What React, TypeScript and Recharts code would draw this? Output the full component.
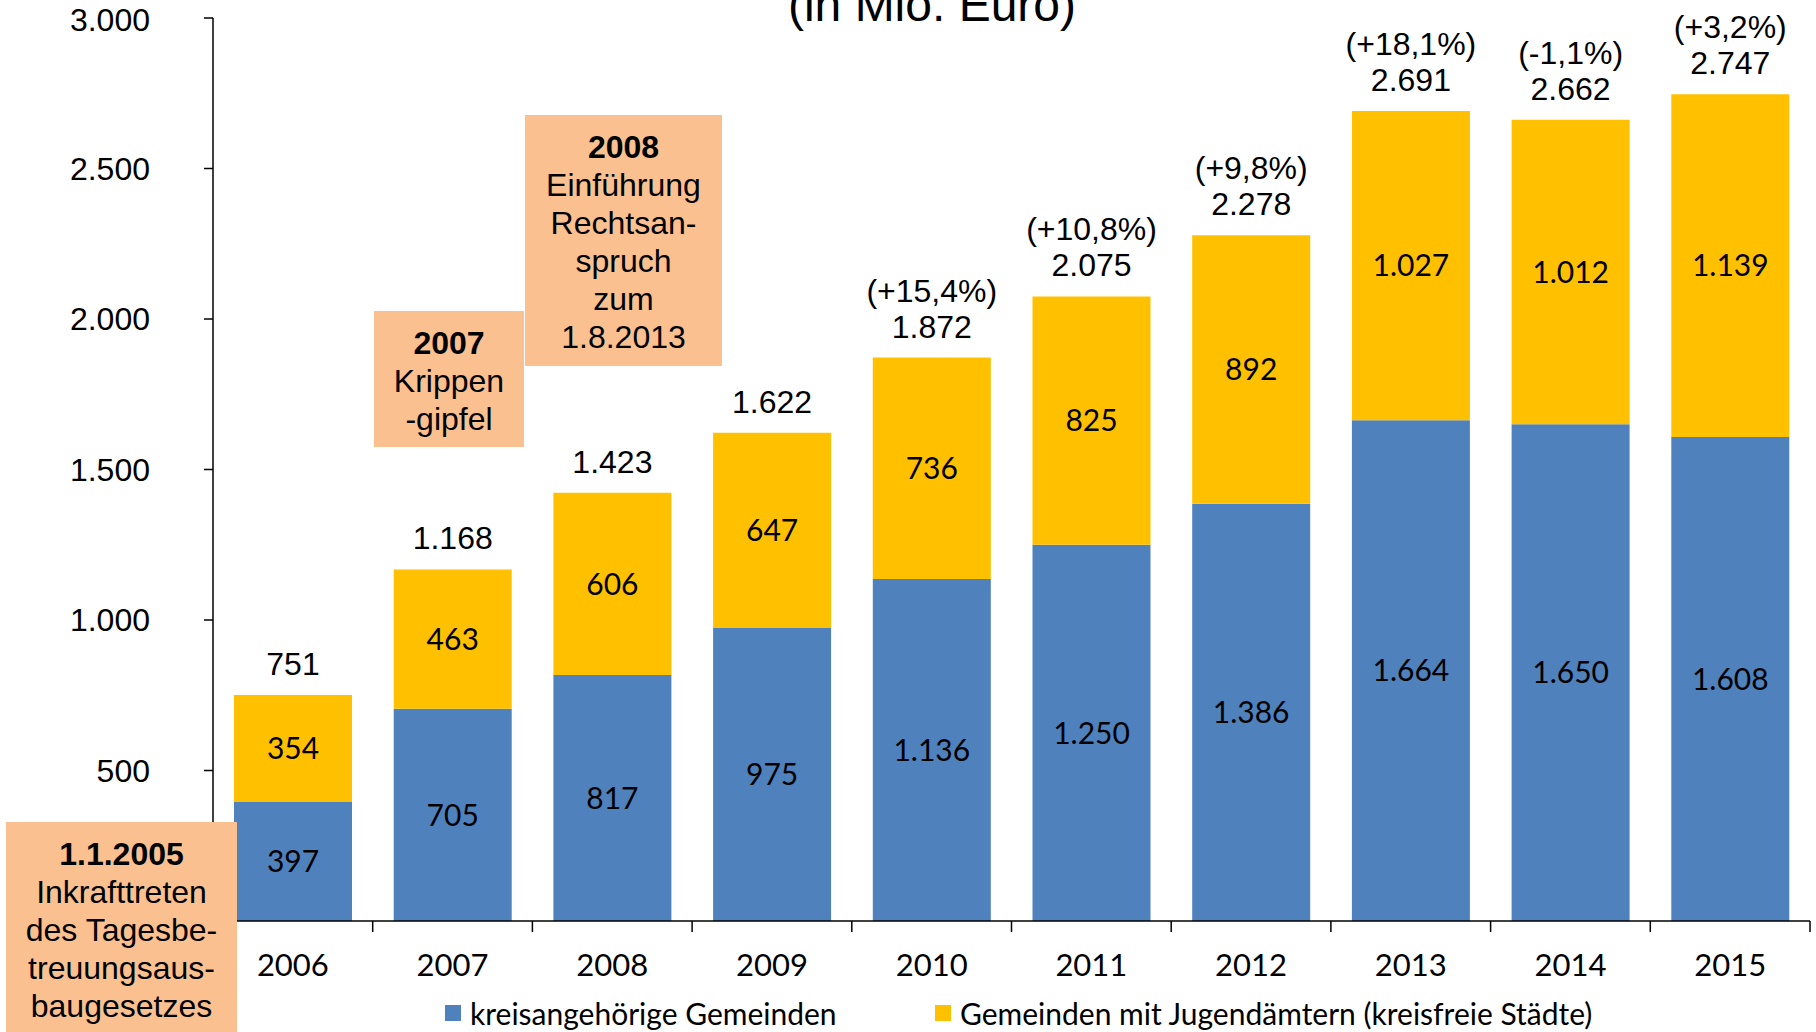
import { Bar, BarChart, LabelList, XAxis, YAxis } from "recharts";

const YEARS = ["2006", "2007", "2008", "2009", "2010", "2011", "2012", "2013", "2014", "2015"];
const KREIS = [397, 705, 817, 975, 1136, 1250, 1386, 1664, 1650, 1608];
const STAEDTE = [354, 463, 606, 647, 736, 825, 892, 1027, 1012, 1139];
const TOTALS = [751, 1168, 1423, 1622, 1872, 2075, 2278, 2691, 2662, 2747];
const CHANGES = ["", "", "", "", "(+15,4%)", "(+10,8%)", "(+9,8%)", "(+18,1%)", "(-1,1%)", "(+3,2%)"];
// the 0 label sits under the 2005 note box, so it is left out
const Y_TICKS = [500, 1000, 1500, 2000, 2500, 3000];

const BLUE = "#4F81BD";
const GOLD = "#FFC000";
const NOTE = "#FAC090";
const ARIAL = "'Liberation Sans', Arial, sans-serif";
const SOFT = "Lato, 'Open Sans', sans-serif";

const W = 1816;
const H = 1032;
const BAND = (1810 - 213) / YEARS.length;

const data = YEARS.map((year, i) => ({
  year,
  kreis: KREIS[i],
  staedte: STAEDTE[i],
  total: TOTALS[i],
  change: CHANGES[i],
}));

// german thousands separator
const fmt = (v: any) => {
  const n = Number(v);
  if (n < 1000) return String(n);
  return `${Math.floor(n / 1000)}.${String(n % 1000).padStart(3, "0")}`;
};

function box(p: any) {
  const vb = p.viewBox ?? p;
  return { x: Number(vb.x), y: Number(vb.y), width: Number(vb.width) };
}

function TotalLabel(p: any) {
  const { x, y, width } = box(p);
  return (
    <text x={x + width / 2} y={y - 31 + 11} textAnchor="middle" fontSize={32} fontFamily={ARIAL} fill="#000">
      {fmt(p.value)}
    </text>
  );
}

function ChangeLabel(p: any) {
  if (!p.value) return null;
  const { x, y, width } = box(p);
  return (
    <text x={x + width / 2} y={y - 67 + 11} textAnchor="middle" fontSize={32} fontFamily={ARIAL} fill="#000">
      {p.value}
    </text>
  );
}

function YearTick(p: any) {
  const { x, y, payload } = p;
  const edge = x + BAND / 2;
  return (
    <g>
      <line x1={edge} y1={y} x2={edge} y2={y + 11} stroke="#000" strokeWidth={1.5} />
      <text x={x} y={y + 55} textAnchor="middle" fontSize={31} fontFamily={SOFT} fill="#000">
        {payload.value}
      </text>
    </g>
  );
}

const notes = [
  { left: 374, top: 311, width: 150, height: 136, head: "2007", lines: ["Krippen", "-gipfel"] },
  { left: 525, top: 115, width: 197, height: 251, head: "2008", lines: ["Einführung", "Rechtsan-", "spruch", "zum", "1.8.2013"] },
  { left: 6, top: 822, width: 231, height: 215, head: "1.1.2005", lines: ["Inkrafttreten", "des Tagesbe-", "treuungsaus-", "baugesetzes"] },
];

const legend = [
  { name: "kreisangehörige Gemeinden", color: BLUE, left: 445 },
  { name: "Gemeinden mit Jugendämtern (kreisfreie Städte)", color: GOLD, left: 935 },
];

export default function App() {
  return (
    <div style={{ position: "absolute", left: 0, top: 0, width: W, height: H, overflow: "hidden", background: "#fff" }}>
      <BarChart width={W} height={H} data={data} margin={{ top: 18, right: 6, left: 0, bottom: 0 }}>
        <XAxis
          dataKey="year"
          height={111}
          axisLine={{ stroke: "#000", strokeWidth: 1.5 }}
          tickLine={false}
          tickSize={0}
          tickMargin={0}
          tick={<YearTick />}
          interval={0}
        />
        <YAxis
          width={213}
          domain={[0, 3000]}
          ticks={Y_TICKS}
          axisLine={{ stroke: "#000", strokeWidth: 1.5 }}
          tickLine={{ stroke: "#000", strokeWidth: 1.5 }}
          tickSize={9}
          tickMargin={54}
          tickFormatter={fmt}
          tick={{ fill: "#000", fontSize: 32, fontFamily: ARIAL }}
        />
        <Bar dataKey="kreis" stackId="a" fill={BLUE} barSize={118} isAnimationActive={false}>
          <LabelList
            dataKey="kreis"
            position="center"
            formatter={fmt}
            style={{ fill: "#000", fontSize: 30, fontFamily: SOFT }}
          />
        </Bar>
        <Bar dataKey="staedte" stackId="a" fill={GOLD} barSize={118} isAnimationActive={false}>
          <LabelList
            dataKey="staedte"
            position="center"
            formatter={fmt}
            style={{ fill: "#000", fontSize: 30, fontFamily: SOFT }}
          />
          <LabelList dataKey="total" content={(p: any) => <TotalLabel {...p} />} />
          <LabelList dataKey="change" content={(p: any) => <ChangeLabel {...p} />} />
        </Bar>
      </BarChart>

      <div
        style={{
          position: "absolute",
          left: 932 - 300,
          width: 600,
          top: 21 - 44,
          textAlign: "center",
          fontFamily: ARIAL,
          fontSize: 48,
          lineHeight: "56px",
        }}
      >
        (in Mio. Euro)
      </div>

      {notes.map((n) => (
        <div
          key={n.head}
          style={{
            position: "absolute",
            left: n.left,
            top: n.top,
            width: n.width,
            height: n.height,
            background: NOTE,
            boxSizing: "border-box",
            paddingTop: 13,
            textAlign: "center",
            fontFamily: ARIAL,
            fontSize: 32,
            lineHeight: "38px",
            color: "#000",
            whiteSpace: "nowrap",
          }}
        >
          <div style={{ fontWeight: "bold" }}>{n.head}</div>
          {n.lines.map((l) => (
            <div key={l}>{l}</div>
          ))}
        </div>
      ))}

      {legend.map((l) => (
        <div
          key={l.name}
          style={{
            position: "absolute",
            left: l.left,
            top: 995,
            height: 36,
            display: "flex",
            alignItems: "center",
            fontFamily: SOFT,
            fontSize: 30,
            lineHeight: "34px",
            whiteSpace: "nowrap",
          }}
        >
          <span style={{ display: "inline-block", width: 16, height: 16, background: l.color, marginRight: 9 }} />
          {l.name}
        </div>
      ))}
    </div>
  );
}
